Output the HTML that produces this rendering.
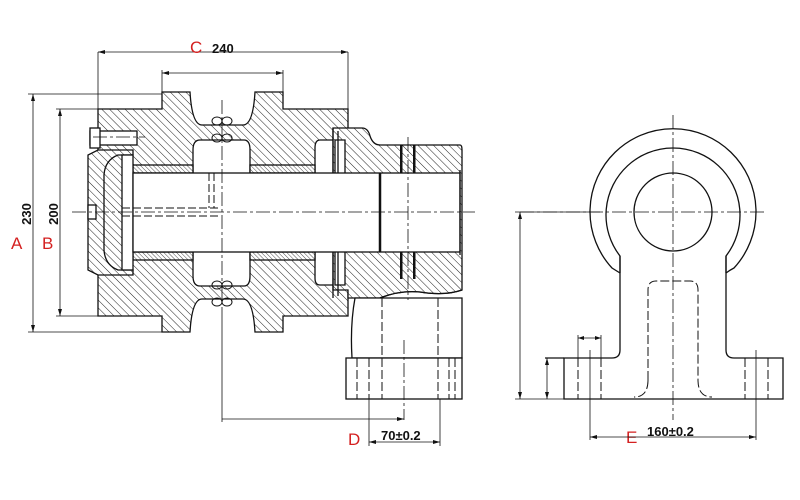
<!DOCTYPE html>
<html><head><meta charset="utf-8"><style>
html,body{margin:0;padding:0;background:#fff;}
svg{display:block;}
text{font-family:"Liberation Sans",sans-serif;}
</style></head><body>
<svg width="800" height="500" viewBox="0 0 800 500" xmlns="http://www.w3.org/2000/svg">
<defs>
<pattern id="h" width="5.5" height="5.5" patternUnits="userSpaceOnUse" patternTransform="rotate(-45)">
<rect width="5.5" height="5.5" fill="#fff"/><line x1="0" y1="0" x2="0" y2="5.5" stroke="#222" stroke-width="1"/>
</pattern>
<pattern id="h2" width="3" height="3" patternUnits="userSpaceOnUse" patternTransform="rotate(-45)">
<rect width="3" height="3" fill="#fff"/><line x1="0" y1="0" x2="0" y2="3" stroke="#222" stroke-width="0.8"/>
</pattern>
</defs>
<g fill="none" stroke="#111" stroke-width="1.3">
<!-- roller body -->
<path fill="url(#h)" d="M98,109 L162,109 L162,92 L190,92 Q192,125 202,125 L243,125 Q253,125 255,92 L283,92 L283,109 L348,109 L348,316 L283,316 L283,332 L255,332 Q253,299 243,299 L202,299 Q192,299 190,332 L162,332 L162,316 L98,316 Z"/>
<path fill="#fff" d="M200,140 L244,140 Q250,140 250,150 L250,276 Q250,286 244,286 L200,286 Q193,286 193,276 L193,150 Q193,140 200,140 Z"/>
<path fill="#fff" d="M320,140 L335,140 L335,285 L320,285 Q315,285 315,278 L315,148 Q315,140 320,140 Z"/>
<!-- bracket -->
<path fill="url(#h)" d="M333,128 L362,128 Q368,128 370,136 Q373,145 380,145 L460,145 Q462,145 462,150 L462,290 Q445,296 420,292 Q400,290 380,298 L348,298 L348,290 L333,290 Z"/>
<path fill="#fff" d="M335,140 L345,140 L345,285 L335,285 Z"/>
<line x1="333" y1="128" x2="333" y2="298"/>
<line x1="338" y1="131" x2="338" y2="296"/>
<rect x="400" y="145" width="2.5" height="28" fill="#111" stroke="none"/>
<rect x="413" y="145" width="2.5" height="28" fill="#111" stroke="none"/>
<rect x="400" y="252" width="2.5" height="27" fill="#111" stroke="none"/>
<rect x="413" y="252" width="2.5" height="27" fill="#111" stroke="none"/>
<!-- left cap -->
<path fill="url(#h)" d="M98,150 L133,150 L133,155 L118,155 Q105,160 104,175 L104,250 Q105,265 118,270 L133,270 L133,275 L98,275 L88,270 L88,155 Z"/>
<rect x="88" y="205" width="8" height="14" fill="#fff"/>
<rect x="133" y="165" width="60" height="8" fill="url(#h2)"/>
<rect x="250" y="165" width="65" height="8" fill="url(#h2)"/>
<rect x="133" y="252" width="60" height="8" fill="url(#h2)"/>
<rect x="250" y="252" width="65" height="8" fill="url(#h2)"/>
<rect x="122" y="155" width="11" height="115" fill="#fff"/>
<rect x="133" y="173" width="327" height="79" fill="#fff"/>
<line x1="460" y1="170" x2="460" y2="255"/>
<line x1="380" y1="173" x2="380" y2="252" stroke-width="2.5"/>
<rect x="90" y="131" width="47" height="14" fill="#fff"/>
<rect x="90" y="128" width="10" height="20" fill="#fff"/>
<g stroke-dasharray="8,3" stroke-width="1">
<line x1="122" y1="208" x2="220" y2="208"/><line x1="122" y1="216" x2="220" y2="216"/>
<line x1="209" y1="173" x2="209" y2="208"/><line x1="214" y1="173" x2="214" y2="208"/>
</g>
<g stroke-width="1">
<ellipse cx="217" cy="121" rx="5" ry="4"/><ellipse cx="227" cy="121" rx="5" ry="4"/>
<ellipse cx="217" cy="138" rx="5" ry="4"/><ellipse cx="227" cy="138" rx="5" ry="4"/>
<ellipse cx="217" cy="285" rx="5" ry="4"/><ellipse cx="227" cy="285" rx="5" ry="4"/>
<ellipse cx="217" cy="302" rx="5" ry="4"/><ellipse cx="227" cy="302" rx="5" ry="4"/>
</g>
<path fill="#fff" d="M355,298 L462,298 L462,358 L352,358 Q350,325 355,298 Z"/>
<path d="M380,298 Q400,290 420,292 Q445,296 462,290"/>
<rect x="346" y="358" width="116" height="41" fill="#fff"/>
<g stroke-dasharray="9,3" stroke-width="1">
<line x1="382" y1="298" x2="382" y2="399"/><line x1="438" y1="298" x2="438" y2="399"/>
<line x1="369" y1="358" x2="369" y2="399"/><line x1="449" y1="358" x2="449" y2="399"/>
<line x1="357" y1="358" x2="357" y2="399"/><line x1="455" y1="358" x2="455" y2="399"/>
</g>
</g>
<g stroke="#111" stroke-width="0.8" stroke-dasharray="14,3,3,3" fill="none">
<line x1="72" y1="212" x2="475" y2="212"/>
<line x1="222" y1="100" x2="222" y2="320"/>
<line x1="408" y1="137" x2="408" y2="300"/>
<line x1="404" y1="340" x2="404" y2="420"/>
<line x1="93" y1="137" x2="145" y2="137"/>
<line x1="520" y1="212" x2="765" y2="212"/>
<line x1="673" y1="115" x2="673" y2="420"/>
</g>
<g stroke="#111" stroke-width="0.8" fill="none">
<line x1="98" y1="52" x2="98" y2="109"/><line x1="348" y1="52" x2="348" y2="109"/>
<line x1="98" y1="52" x2="348" y2="52"/>
<line x1="162" y1="70" x2="162" y2="92"/><line x1="283" y1="70" x2="283" y2="92"/>
<line x1="162" y1="73" x2="283" y2="73"/>
<line x1="28" y1="94" x2="162" y2="94"/><line x1="28" y1="332" x2="162" y2="332"/>
<line x1="33" y1="94" x2="33" y2="332"/>
<line x1="56" y1="109" x2="98" y2="109"/><line x1="56" y1="316" x2="98" y2="316"/>
<line x1="60" y1="109" x2="60" y2="316"/>
<line x1="222" y1="320" x2="222" y2="422"/>
<line x1="222" y1="419" x2="404" y2="419"/>
<line x1="369" y1="399" x2="369" y2="446"/><line x1="440" y1="399" x2="440" y2="446"/>
<line x1="369" y1="442" x2="440" y2="442"/>
</g>
<g fill="#111">
<path d="M98,52 l7,-2 v4z"/><path d="M348,52 l-7,-2 v4z"/>
<path d="M162,73 l7,-2 v4z"/><path d="M283,73 l-7,-2 v4z"/>
<path d="M33,94 l-2,7 h4z"/><path d="M33,332 l-2,-7 h4z"/>
<path d="M60,109 l-2,7 h4z"/><path d="M60,316 l-2,-7 h4z"/>
<path d="M404,419 l-7,-2 v4z"/>
<path d="M369,442 l7,-2 v4z"/><path d="M440,442 l-7,-2 v4z"/>
</g>
<g font-size="13" font-weight="bold" fill="#111">
<text x="212" y="53">240</text>
<text x="381" y="440">70±0.2</text>
<text transform="translate(31,214) rotate(-90)" text-anchor="middle">230</text>
<text transform="translate(58,214) rotate(-90)" text-anchor="middle">200</text>
<text x="647" y="436">160±0.2</text>
</g>
<g font-size="17" fill="#d42020">
<text x="190" y="53">C</text>
<text x="11" y="249">A</text>
<text x="42" y="249">B</text>
<text x="348" y="445">D</text>
<text x="626" y="443">E</text>
</g>
<!-- right view -->
<g fill="none" stroke="#111" stroke-width="1.3">
<path d="M620,273 Q612,268 612,268 A83,83 0 1 1 734,268 Q730,270 726,273"/>
<path d="M620,273 L620,256 A67,67 0 1 1 726,256 L726,273"/>
<path d="M620,256 L620,350 Q620,358 612,358 L564,358 L564,399 L783,399 L783,358 L734,358 Q726,358 726,350 L726,256"/>
<circle cx="673" cy="212" r="39"/>
<line x1="545" y1="358" x2="564" y2="358"/>
<g stroke-dasharray="9,3" stroke-width="1">
<path d="M648,380 L648,290 Q648,281 656,281 L690,281 Q698,281 698,290 L698,380 Q698,397 712,397"/>
<path d="M648,380 Q648,397 634,397"/>
<line x1="578" y1="358" x2="578" y2="399"/><line x1="601" y1="358" x2="601" y2="399"/>
<line x1="745" y1="358" x2="745" y2="399"/><line x1="768" y1="358" x2="768" y2="399"/>
</g>
<line x1="590" y1="350" x2="590" y2="440" stroke-width="0.8"/>
<line x1="756" y1="350" x2="756" y2="440" stroke-width="0.8"/>
</g>
<g stroke="#111" stroke-width="0.8" fill="none">
<line x1="515" y1="212" x2="600" y2="212"/>
<line x1="515" y1="399" x2="564" y2="399"/>
<line x1="520" y1="212" x2="520" y2="399"/>
<line x1="547" y1="358" x2="547" y2="399"/>
<line x1="578" y1="335" x2="578" y2="358"/><line x1="601" y1="335" x2="601" y2="358"/>
<line x1="578" y1="338" x2="601" y2="338"/>
<line x1="590" y1="437" x2="756" y2="437"/>
</g>
<g fill="#111">
<path d="M520,212 l-2,7 h4z"/><path d="M520,399 l-2,-7 h4z"/>
<path d="M547,358 l-2,7 h4z"/><path d="M547,399 l-2,-7 h4z"/>
<path d="M578,338 l6,-2 v4z"/><path d="M601,338 l-6,-2 v4z"/>
<path d="M590,437 l7,-2 v4z"/><path d="M756,437 l-7,-2 v4z"/>
</g>
</svg>
</body></html>
